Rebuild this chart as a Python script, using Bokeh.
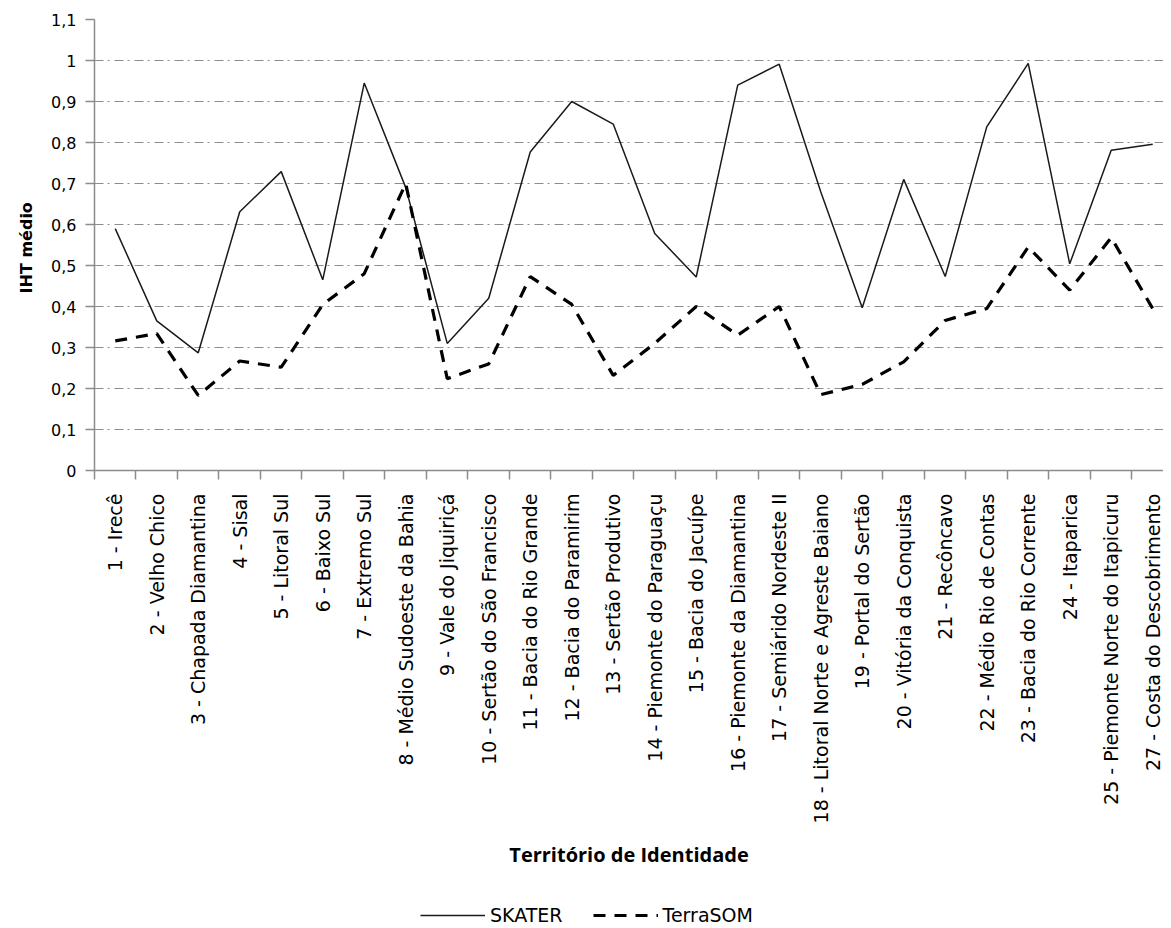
import math
from bokeh.plotting import figure
from bokeh.layouts import column
from bokeh.models import FixedTicker, Range1d, Legend, LegendItem
from bokeh.embed import file_html
from bokeh.resources import INLINE

categories = [
    "1 - Irecê", "2 - Velho Chico", "3 - Chapada Diamantina", "4 - Sisal",
    "5 - Litoral Sul", "6 - Baixo Sul", "7 - Extremo Sul",
    "8 - Médio Sudoeste da Bahia", "9 - Vale do Jiquiriçá",
    "10 - Sertão do São Francisco", "11 - Bacia do Rio Grande",
    "12 - Bacia do Paramirim", "13 - Sertão Produtivo",
    "14 - Piemonte do Paraguaçu", "15 - Bacia do Jacuípe",
    "16 - Piemonte da Diamantina", "17 - Semiárido Nordeste II",
    "18 - Litoral Norte e Agreste Baiano", "19 - Portal do Sertão",
    "20 - Vitória da Conquista", "21 - Recôncavo", "22 - Médio Rio de Contas",
    "23 - Bacia do Rio Corrente", "24 - Itaparica",
    "25 - Piemonte Norte do Itapicuru", "27 - Costa do Descobrimento",
]
skater = [0.59, 0.365, 0.287, 0.631, 0.729, 0.465, 0.945, 0.69, 0.31, 0.42,
          0.777, 0.90, 0.845, 0.578, 0.472, 0.94, 0.991, 0.68, 0.397, 0.71,
          0.473, 0.838, 0.993, 0.504, 0.781, 0.796]
terrasom = [0.316, 0.334, 0.183, 0.267, 0.252, 0.405, 0.48, 0.70, 0.224, 0.26,
            0.473, 0.405, 0.232, 0.31, 0.40, 0.33, 0.40, 0.185, 0.21, 0.265,
            0.366, 0.395, 0.545, 0.44, 0.568, 0.395]
y_ticks = [0, 0.1, 0.2, 0.3, 0.4, 0.5, 0.6, 0.7, 0.8, 0.9, 1.0, 1.1]
y_tick_labels = ["0", "0,1", "0,2", "0,3", "0,4", "0,5", "0,6", "0,7", "0,8",
                 "0,9", "1", "1,1"]
series_names = ["SKATER", "TerraSOM"]

x_pos = list(range(1, len(categories) + 1))
boundaries = [i + 0.5 for i in range(len(categories) + 1)]

GRAY = "#8c8c8c"
LABEL_FONT = "DejaVu Sans"
W = 1163

p = figure(width=W, height=897, x_range=Range1d(0.5, 26.26),
           y_range=Range1d(0, 1.1), output_backend="svg",
           toolbar_location=None, min_border_left=94, min_border_top=19,
           min_border_right=0, min_border_bottom=427)
p.outline_line_color = None
p.background_fill_color = "white"

# x axis
xa = p.xaxis[0]
xa.ticker = FixedTicker(ticks=x_pos, minor_ticks=boundaries)
xa.major_label_overrides = {x: c for x, c in zip(x_pos, categories)}
xa.major_label_orientation = math.pi / 2
xa.major_tick_out = 0
xa.major_tick_in = 0
xa.minor_tick_out = 9
xa.minor_tick_in = 0
xa.minor_tick_line_color = GRAY
xa.minor_tick_line_width = 1.5
xa.axis_line_color = GRAY
xa.axis_line_width = 1.5
xa.major_label_standoff = 14
xa.major_label_text_font = LABEL_FONT
xa.major_label_text_font_size = "19px"
xa.major_label_text_color = "black"
xa.axis_label = "Território de Identidade"
xa.axis_label_text_font = "Open Sans"
xa.axis_label_text_font_style = "bold"
xa.axis_label_text_font_size = "20px"
xa.axis_label_text_color = "black"
xa.axis_label_standoff = 15

# y axis
ya = p.yaxis[0]
ya.ticker = FixedTicker(ticks=y_ticks)
ya.major_label_overrides = {t: l for t, l in zip(y_ticks, y_tick_labels)}
ya.major_tick_out = 9
ya.major_tick_in = 0
ya.minor_tick_out = 0
ya.minor_tick_in = 0
ya.major_tick_line_color = GRAY
ya.major_tick_line_width = 1.5
ya.axis_line_color = GRAY
ya.axis_line_width = 1.5
ya.major_label_standoff = 9
ya.major_label_text_font = "DejaVu Sans"
ya.major_label_text_font_size = "16px"
ya.major_label_text_color = "black"
ya.axis_label = "IHT  médio"
ya.axis_label_text_font = "DejaVu Sans"
ya.axis_label_text_font_style = "bold"
ya.axis_label_text_font_size = "16px"
ya.axis_label_text_color = "black"
ya.axis_label_standoff = 12

# grid
p.xgrid.visible = False
p.ygrid.ticker = FixedTicker(ticks=y_ticks)
p.ygrid.grid_line_color = GRAY
p.ygrid.grid_line_dash = "9 4 2 5"
p.ygrid.grid_line_width = 1

solid_style = dict(line_color="#1a1a1a", line_width=1.5)
dash_style = dict(line_color="black", line_width=3.2, line_dash="12 9")

p.line(x_pos, skater, **solid_style)
p.line(x_pos, terrasom, **dash_style)

# legend strip below the chart (its lines lie outside the visible range)
lg = figure(width=W, height=31, x_range=Range1d(0, 1), y_range=Range1d(0, 1),
            output_backend="svg", toolbar_location=None,
            x_axis_location=None, y_axis_location=None,
            min_border_left=0, min_border_right=0, min_border_top=0,
            min_border_bottom=0)
lg.outline_line_color = None
lg.xgrid.visible = False
lg.ygrid.visible = False
l1 = lg.line([5, 6], [5, 6], **solid_style)
l2 = lg.line([5, 6], [5, 6], **dash_style)
legend = Legend(items=[LegendItem(label=series_names[0], renderers=[l1]),
                       LegendItem(label=series_names[1], renderers=[l2])],
                orientation="horizontal", location=(326, 2))
legend.glyph_width = 65
legend.glyph_height = 20
legend.label_standoff = 5
legend.spacing = 30
legend.label_text_font = LABEL_FONT
legend.label_text_font_size = "19px"
legend.label_text_color = "black"
legend.border_line_color = None
legend.background_fill_alpha = 0
legend.padding = 0
legend.margin = 0
lg.add_layout(legend, "center")

layout = column(p, lg, spacing=0)
open("out.html", "w").write(file_html(layout, INLINE))
